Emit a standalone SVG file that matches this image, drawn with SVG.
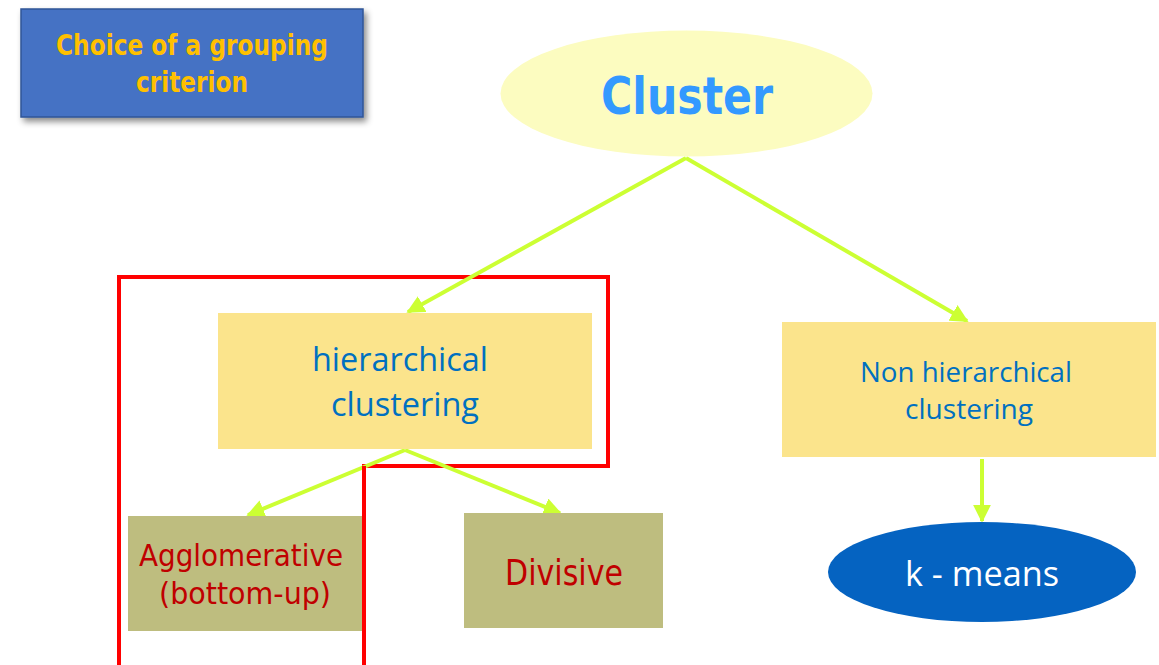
<svg xmlns="http://www.w3.org/2000/svg" width="1159" height="665" viewBox="0 0 1159 665">
<style>
.conn{stroke:#CCFF33;stroke-width:4;fill:none}
.calibri{font-family:"Open Sans","Noto Sans",sans-serif;fill:#0070C0;text-anchor:middle}
.tahoma{font-family:"DejaVu Sans","Noto Sans",sans-serif;fill:#C00000;text-anchor:middle}
.khaki{fill:#BEBD7F}
.sand{fill:#FBE48C}
</style>
<defs>
<marker id="ah" viewBox="0 0 10 10" refX="9" refY="5" markerWidth="4.5" markerHeight="4.5" orient="auto" markerUnits="strokeWidth">
<path d="M0,0 L10,5 L0,10 z" fill="#CCFF33"/>
</marker>
<filter id="sh" x="-10%" y="-20%" width="125%" height="150%">
<feDropShadow dx="3" dy="4" stdDeviation="3" flood-color="#000" flood-opacity="0.45"/>
</filter>
</defs>
<g id="criterion">
<rect x="21" y="9" width="342" height="108" fill="#4472C4" stroke="#2F5597" stroke-width="1.5" filter="url(#sh)"/>
<text x="192" y="55" font-family="'DejaVu Sans',sans-serif" font-weight="bold" font-size="28" fill="#FFC000" text-anchor="middle" textLength="272" lengthAdjust="spacingAndGlyphs">Choice of a grouping</text>
<text x="192" y="92" font-family="'DejaVu Sans',sans-serif" font-weight="bold" font-size="28" fill="#FFC000" text-anchor="middle" textLength="112" lengthAdjust="spacingAndGlyphs">criterion</text>
</g>
<g id="selection">
<path d="M119,665 V277 H608 V466 H364 V665" fill="none" stroke="#FF0000" stroke-width="4"/>
</g>
<g id="connectors">
<line class="conn" x1="686" y1="158" x2="408" y2="312" marker-end="url(#ah)"/>
<line class="conn" x1="686" y1="158" x2="967" y2="321" marker-end="url(#ah)"/>
<line class="conn" x1="405" y1="450" x2="248" y2="515" marker-end="url(#ah)"/>
<line class="conn" x1="405" y1="450" x2="560" y2="513" marker-end="url(#ah)"/>
<line class="conn" x1="982" y1="459" x2="982" y2="521" marker-end="url(#ah)"/>
</g>
<g id="cluster">
<ellipse cx="686.5" cy="93.5" rx="186" ry="63" fill="#FCFCC0"/>
<text x="687" y="114" font-family="'DejaVu Sans',sans-serif" font-weight="bold" font-size="52" fill="#3399FF" text-anchor="middle" textLength="172" lengthAdjust="spacingAndGlyphs">Cluster</text>
</g>
<g id="hierarchical">
<rect class="sand" x="218" y="313" width="374" height="136"/>
<text class="calibri" x="400" y="371" font-size="33" textLength="176" lengthAdjust="spacingAndGlyphs">hierarchical</text>
<text class="calibri" x="405" y="416" font-size="33" textLength="148" lengthAdjust="spacingAndGlyphs">clustering</text>
</g>
<g id="non-hierarchical">
<rect class="sand" x="782" y="322" width="374" height="135"/>
<text class="calibri" x="966" y="382" font-size="28" textLength="212" lengthAdjust="spacingAndGlyphs">Non hierarchical</text>
<text class="calibri" x="969" y="419" font-size="28" textLength="128" lengthAdjust="spacingAndGlyphs">clustering</text>
</g>
<g id="agglomerative">
<rect class="khaki" x="128" y="516" width="234" height="115"/>
<text class="tahoma" x="241" y="566" font-size="31" textLength="204" lengthAdjust="spacingAndGlyphs">Agglomerative</text>
<text class="tahoma" x="245" y="604" font-size="31" textLength="172" lengthAdjust="spacingAndGlyphs">(bottom-up)</text>
</g>
<g id="divisive">
<rect class="khaki" x="464" y="513" width="199" height="115"/>
<text class="tahoma" x="564" y="585" font-size="36" textLength="118" lengthAdjust="spacingAndGlyphs">Divisive</text>
</g>
<g id="kmeans">
<ellipse cx="982" cy="572" rx="154" ry="50" fill="#0563C1"/>
<text x="982" y="586" font-family="'Open Sans','Noto Sans',sans-serif" font-size="35" fill="#FFFFFF" text-anchor="middle" textLength="154" lengthAdjust="spacingAndGlyphs">k - means</text>
</g>
<g id="selection-overlay">
<line x1="364" y1="466" x2="364" y2="665" stroke="#FF0000" stroke-width="4"/>
</g>
</svg>
